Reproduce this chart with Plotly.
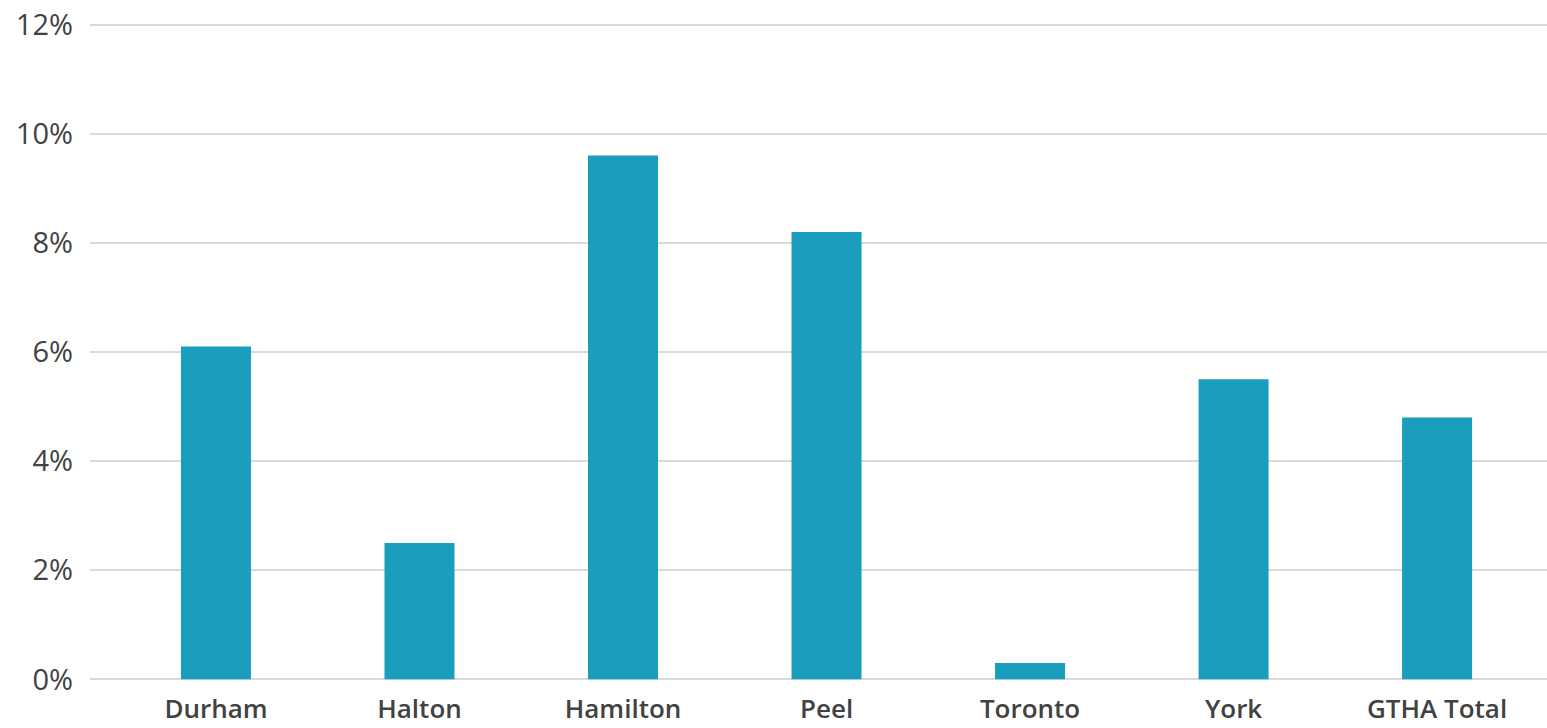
import plotly.graph_objects as go

categories = ["Durham", "Halton", "Hamilton", "Peel", "Toronto", "York", "GTHA Total"]
values = [6.1, 2.5, 9.6, 8.2, 0.3, 5.5, 4.8]
y_ticks = [0, 2, 4, 6, 8, 10, 12]
y_tick_labels = [f"{v}%" for v in y_ticks]

fig = go.Figure(
    go.Bar(
        x=categories,
        y=values,
        marker=dict(color="#1b9dbd", line=dict(width=0)),
        width=0.344,
        hoverinfo="x+y",
    )
)

fig.update_layout(
    width=1547,
    height=728,
    margin=dict(l=90, r=0, t=23, b=47),
    plot_bgcolor="white",
    paper_bgcolor="white",
    showlegend=False,
    font=dict(family="Open Sans", color="#404040"),
    xaxis=dict(
        type="category",
        range=[-0.619, 6.54],
        showgrid=False,
        showline=False,
        zeroline=False,
        ticks="",
        automargin=False,
        ticklabelstandoff=10,
        tickfont=dict(size=26, family="Open Sans", weight=600, color="#424242"),
    ),
    yaxis=dict(
        range=[-0.03, 12.03],
        tickvals=y_ticks,
        ticktext=y_tick_labels,
        showgrid=True,
        gridcolor="#dadada",
        gridwidth=1.5,
        zeroline=True,
        zerolinecolor="#dadada",
        zerolinewidth=1.5,
        showline=False,
        ticks="",
        automargin=False,
        ticklabelstandoff=16,
        tickfont=dict(size=29, family="Open Sans", weight=500, color="#424242"),
    ),
)

fig.write_html("out.html")
